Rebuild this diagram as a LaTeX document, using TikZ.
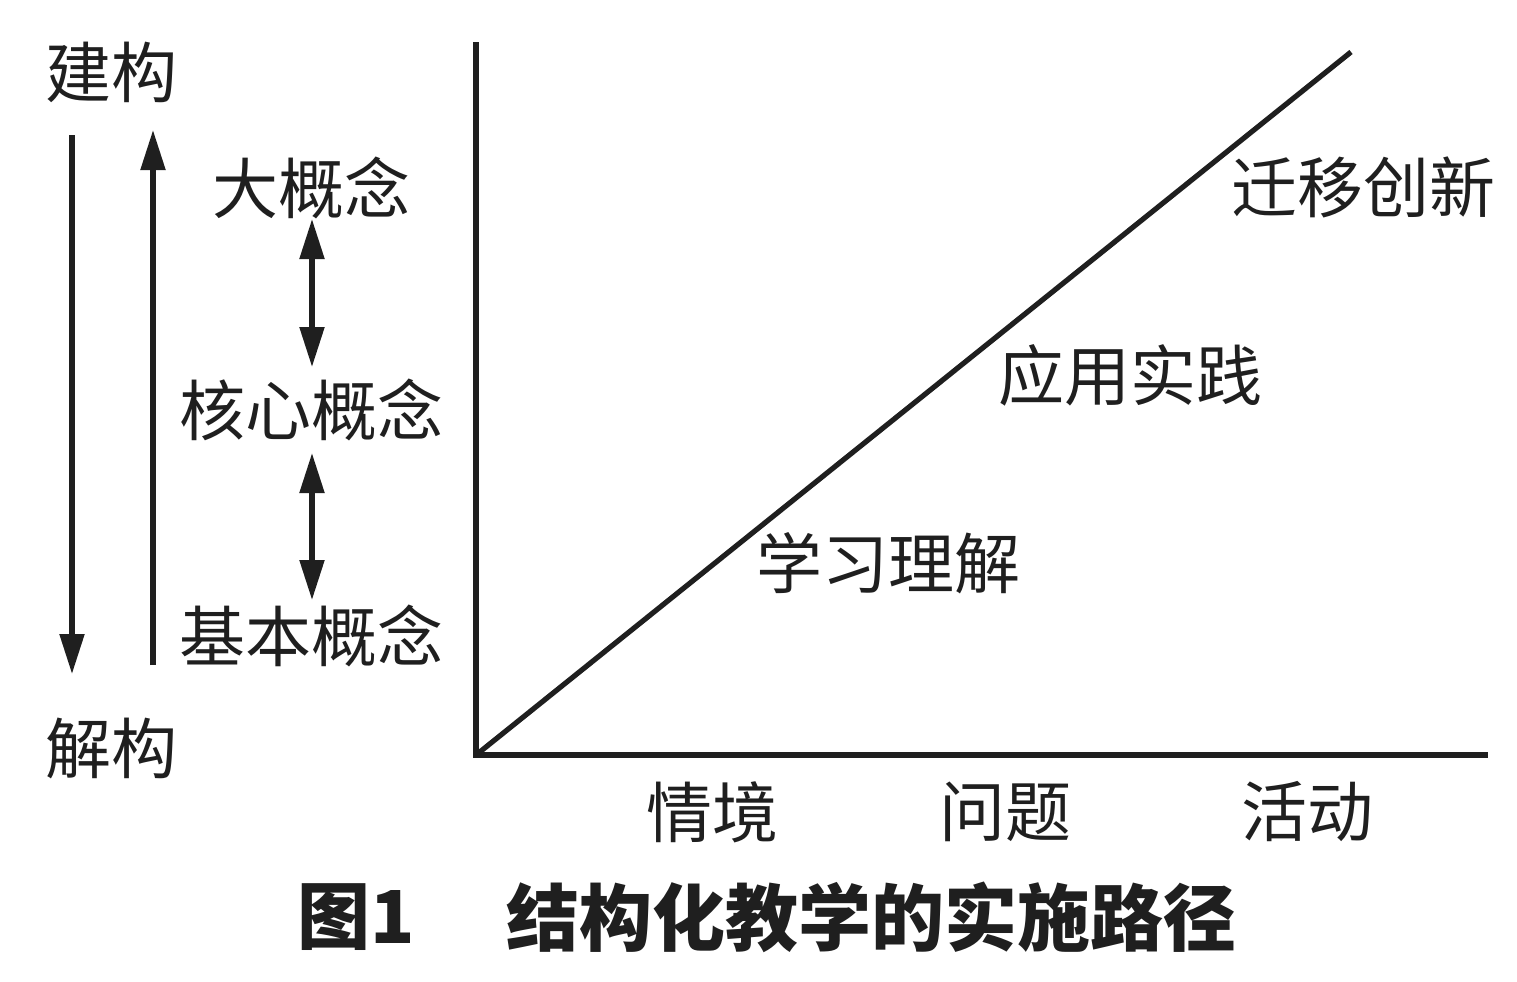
\documentclass[tikz,border=0pt]{standalone}
\usepackage{fontspec}
\newfontfamily\cjk{Noto Sans CJK SC}
\usetikzlibrary{arrows.meta}
\begin{document}
\begin{tikzpicture}[x=0.5pt,y=-0.5pt,
  ln/.style={line width=2.6pt,black!88},
  arr/.style={ln,-{Triangle[width=12pt,length=20pt]}},
  darr/.style={ln,{Triangle[width=12pt,length=20pt]}-{Triangle[width=12pt,length=20pt]}},
  lbl/.style={font=\cjk\fontsize{33}{33}\selectfont,inner sep=0pt,text=black!88},
  captxt/.style={font=\cjk\bfseries\fontsize{36.5}{36.5}\selectfont,inner sep=0pt,text=black!88}]
\useasboundingbox (0,0) rectangle (1517,981);
% left arrows
\coordinate (dA) at (72,135);
\coordinate (dB) at (72,674);
\coordinate (uA) at (153,665);
\coordinate (uB) at (153,130);
\draw[arr] (dA) -- (dB);
\draw[arr] (uA) -- (uB);
\node[lbl] (jg) at (112,72) {建构};
\node[lbl] (xg) at (112,748) {解构};
\node[lbl] (dgn) at (311,188) {大概念};
\node[lbl] (hx) at (311,410) {核心概念};
\node[lbl] (jb) at (311,636) {基本概念};
\coordinate (a1) at (312,219);
\coordinate (a2) at (312,367);
\coordinate (b1) at (312,453);
\coordinate (b2) at (312,600);
\draw[darr] (a1) -- (a2);
\draw[darr] (b1) -- (b2);
% axes
\coordinate (O) at (476,755);
\coordinate (Y) at (476,42);
\coordinate (X) at (1488,755);
\coordinate (D) at (1351,52);
\draw[ln,line cap=butt] (Y) -- (O) -- (X);
\draw[ln] (O) -- (D);
\node[lbl] (qy) at (1363,187) {迁移创新};
\node[lbl] (yy) at (1130,375) {应用实践};
\node[lbl] (xx) at (888,563) {学习理解};
\node[lbl] (qj) at (712,812) {情境};
\node[lbl] (wt) at (1005,812) {问题};
\node[lbl] (hd) at (1307,812) {活动};
% caption
\node[captxt] (c1) at (356,917) {图1};
\node[captxt] (c2) at (871,917) {结构化教学的实施路径};
\end{tikzpicture}
\end{document}
